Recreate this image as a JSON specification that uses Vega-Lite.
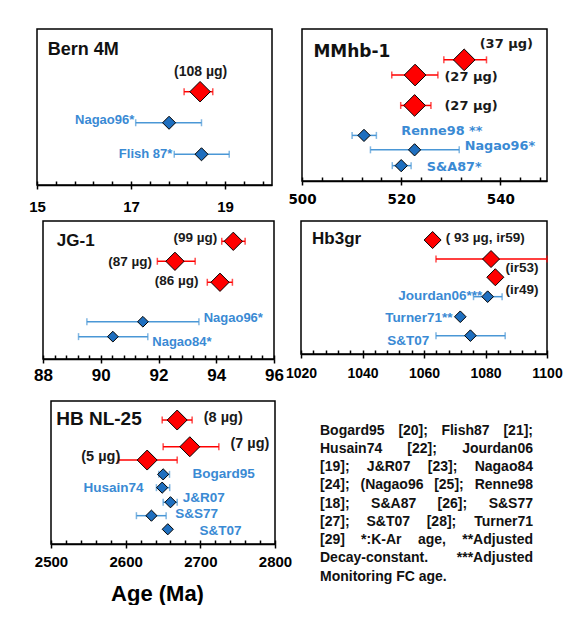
{
  "$schema": "https://vega.github.io/schema/vega-lite/v6.json",
  "padding": {"left": 6, "top": 28, "right": 0, "bottom": 0},
  "background": "white",
  "bounds": "full",
  "spacing": 16,
  "config": {
    "view": {"stroke": "#000000", "strokeWidth": 1.5},
    "axis": {"orient": "bottom", "domainColor": "#000000", "domainWidth": 1.5, "tickColor": "#000000", "tickWidth": 1.5, "labelColor": "#000000", "labelFont": "Liberation Sans", "labelFontWeight": "bold", "grid": false, "labelFlush": false, "labelOverlap": false, "titleColor": "#000000", "format": "d"}
  },
  "datasets": {
    "pts": [
      {"p": "B", "k": "new", "age": 18.47, "lo": 18.13, "hi": 18.74, "row": 4.02},
      {"p": "B", "k": "ref", "age": 17.81, "lo": 17.10, "hi": 18.50, "row": 6.01},
      {"p": "B", "k": "ref", "age": 18.50, "lo": 17.92, "hi": 19.09, "row": 8.03},
      {"p": "M", "k": "new", "age": 532.7, "lo": 528.6, "hi": 537.2, "row": 2.03},
      {"p": "M", "k": "new", "age": 522.8, "lo": 518.1, "hi": 527.4, "row": 3.03},
      {"p": "M", "k": "new", "age": 522.7, "lo": 519.9, "hi": 526.0, "row": 5.03},
      {"p": "M", "k": "ref", "age": 512.5, "lo": 510.1, "hi": 515.0, "row": 7.0},
      {"p": "M", "k": "ref", "age": 522.7, "lo": 513.8, "hi": 531.7, "row": 7.95},
      {"p": "M", "k": "ref", "age": 520.0, "lo": 518.2, "hi": 522.0, "row": 8.99},
      {"p": "J", "k": "new", "age": 94.59, "lo": 94.19, "hi": 95.0, "row": 1.47},
      {"p": "J", "k": "new", "age": 92.57, "lo": 91.96, "hi": 93.27, "row": 2.92},
      {"p": "J", "k": "new", "age": 94.13, "lo": 93.69, "hi": 94.56, "row": 4.44},
      {"p": "J", "k": "ref", "age": 91.46, "lo": 89.52, "hi": 93.4, "row": 7.3},
      {"p": "J", "k": "ref", "age": 90.42, "lo": 89.23, "hi": 91.63, "row": 8.38},
      {"p": "H", "k": "new", "age": 1062.8, "lo": null, "hi": null, "row": 1.43},
      {"p": "H", "k": "new", "age": 1081.8, "lo": 1063.9, "hi": 1100, "row": 2.86},
      {"p": "H", "k": "new", "age": 1083.2, "lo": null, "hi": null, "row": 4.23},
      {"p": "H", "k": "ref", "age": 1080.7, "lo": 1076.1, "hi": 1085.4, "row": 5.69},
      {"p": "H", "k": "ref", "age": 1071.8, "lo": null, "hi": null, "row": 7.2},
      {"p": "H", "k": "ref", "age": 1075.1, "lo": 1063.9, "hi": 1086.4, "row": 8.62},
      {"p": "N", "k": "new", "age": 2669, "lo": 2648.9, "hi": 2689, "row": 1.33},
      {"p": "N", "k": "new", "age": 2685.9, "lo": 2650.2, "hi": 2724.8, "row": 3.2},
      {"p": "N", "k": "new", "age": 2628.8, "lo": 2590.7, "hi": 2669, "row": 4.13},
      {"p": "N", "k": "ref", "age": 2650.2, "lo": 2644.4, "hi": 2658.7, "row": 5.13},
      {"p": "N", "k": "ref", "age": 2648.9, "lo": 2641.2, "hi": 2659, "row": 6.06},
      {"p": "N", "k": "ref", "age": 2660, "lo": 2650.2, "hi": 2669, "row": 7.08},
      {"p": "N", "k": "ref", "age": 2634.5, "lo": 2614.4, "hi": 2654.2, "row": 8.02},
      {"p": "N", "k": "ref", "age": 2656.4, "lo": null, "hi": null, "row": 8.97}
    ],
    "lbl": [
      {"p": "B", "k": "new", "t": "(108 µg)", "x": 18.48, "row": 2.74},
      {"p": "B", "k": "ref", "t": "Nagao96*", "x": 16.44, "row": 5.85},
      {"p": "B", "k": "ref", "t": "Flish 87*", "x": 17.31, "row": 8.03},
      {"p": "M", "k": "new", "t": "(37 µg)", "x": 541.2, "row": 0.99},
      {"p": "M", "k": "new", "t": "(27 µg)", "x": 534.1, "row": 3.13},
      {"p": "M", "k": "new", "t": "(27 µg)", "x": 534.1, "row": 5.08},
      {"p": "M", "k": "ref", "t": "Renne98 **", "x": 528.2, "row": 6.74},
      {"p": "M", "k": "ref", "t": "Nagao96*", "x": 539.9, "row": 7.73},
      {"p": "M", "k": "ref", "t": "S&A87*", "x": 530.7, "row": 9.05},
      {"p": "J", "k": "new", "t": "(99 µg)", "x": 93.28, "row": 1.23},
      {"p": "J", "k": "new", "t": "(87 µg)", "x": 91.02, "row": 2.99},
      {"p": "J", "k": "new", "t": "(86 µg)", "x": 92.63, "row": 4.33},
      {"p": "J", "k": "ref", "t": "Nagao96*", "x": 94.59, "row": 7.03},
      {"p": "J", "k": "ref", "t": "Nagao84*", "x": 92.81, "row": 8.75},
      {"p": "H", "k": "new", "t": "( 93 µg, ir59)", "x": 1079.9, "row": 1.28},
      {"p": "H", "k": "new", "t": "(ir53)", "x": 1091.9, "row": 3.53},
      {"p": "H", "k": "new", "t": "(ir49)", "x": 1091.9, "row": 5.19},
      {"p": "H", "k": "ref", "t": "Jourdan06***", "x": 1065.3, "row": 5.62},
      {"p": "H", "k": "ref", "t": "Turner71**", "x": 1058.3, "row": 7.29},
      {"p": "H", "k": "ref", "t": "S&T07", "x": 1054.9, "row": 9.0},
      {"p": "N", "k": "new", "t": "(8 µg)", "x": 2730.7, "row": 1.17},
      {"p": "N", "k": "new", "t": "(7 µg)", "x": 2766.4, "row": 3.03},
      {"p": "N", "k": "new", "t": "(5 µg)", "x": 2566.6, "row": 3.9},
      {"p": "N", "k": "ref", "t": "Bogard95", "x": 2731.1, "row": 5.13},
      {"p": "N", "k": "ref", "t": "Husain74", "x": 2583.6, "row": 6.06},
      {"p": "N", "k": "ref", "t": "J&R07", "x": 2704.7, "row": 6.76},
      {"p": "N", "k": "ref", "t": "S&S77", "x": 2694.9, "row": 7.9},
      {"p": "N", "k": "ref", "t": "S&T07", "x": 2727.1, "row": 9.07}
    ],
    "notes": [
      {"line": 0, "pos": 0, "end": false, "w": "Bogard95"},
      {"line": 0, "pos": 0.368, "end": false, "w": "[20];"},
      {"line": 0, "pos": 0.570, "end": false, "w": "Flish87"},
      {"line": 0, "pos": 1, "end": true, "w": "[21];"},
      {"line": 1, "pos": 0, "end": false, "w": "Husain74"},
      {"line": 1, "pos": 0.410, "end": false, "w": "[22];"},
      {"line": 1, "pos": 1, "end": true, "w": "Jourdan06"},
      {"line": 2, "pos": 0, "end": false, "w": "[19];"},
      {"line": 2, "pos": 0.220, "end": false, "w": "J&R07"},
      {"line": 2, "pos": 0.506, "end": false, "w": "[23];"},
      {"line": 2, "pos": 1, "end": true, "w": "Nagao84"},
      {"line": 3, "pos": 0, "end": false, "w": "[24];"},
      {"line": 3, "pos": 0.190, "end": false, "w": "(Nagao96"},
      {"line": 3, "pos": 0.536, "end": false, "w": "[25];"},
      {"line": 3, "pos": 1, "end": true, "w": "Renne98"},
      {"line": 4, "pos": 0, "end": false, "w": "[18];"},
      {"line": 4, "pos": 0.240, "end": false, "w": "S&A87"},
      {"line": 4, "pos": 0.552, "end": false, "w": "[26];"},
      {"line": 4, "pos": 1, "end": true, "w": "S&S77"},
      {"line": 5, "pos": 0, "end": false, "w": "[27];"},
      {"line": 5, "pos": 0.218, "end": false, "w": "S&T07"},
      {"line": 5, "pos": 0.501, "end": false, "w": "[28];"},
      {"line": 5, "pos": 1, "end": true, "w": "Turner71"},
      {"line": 6, "pos": 0, "end": false, "w": "[29]"},
      {"line": 6, "pos": 0.193, "end": false, "w": "*:K-Ar"},
      {"line": 6, "pos": 0.460, "end": false, "w": "age,"},
      {"line": 6, "pos": 1, "end": true, "w": "**Adjusted"},
      {"line": 7, "pos": 0, "end": false, "w": "Decay-constant."},
      {"line": 7, "pos": 1, "end": true, "w": "***Adjusted"},
      {"line": 8, "pos": 0, "end": false, "w": "Monitoring FC age."}
    ]
  },
  "vconcat": [
    {
      "bounds": "full",
      "spacing": 5,
      "vconcat": [
        {
          "bounds": "flush",
          "spacing": 30,
          "hconcat": [
            {"width": 1, "height": 1, "view": {"stroke": null}, "data": {"values": [{}]}, "mark": {"type": "point", "opacity": 0, "size": 0.1}},
            {
              "width": 235, "height": 156,
              "resolve": {"axis": {"x": "independent"}},
              "layer": [
                {"data": {"name": "pts"}, "transform": [{"filter": "datum.p=='B' && isValid(datum.lo)"}],
                 "mark": {"type": "rule", "strokeWidth": 1.5},
                 "encoding": {
                   "x": {"field": "lo", "type": "quantitative", "scale": {"domain": [15, 20], "nice": false, "zero": false},
                         "axis": {"orient": "bottom", "values": [15,15.4,15.8,16.2,16.6,17,17.4,17.8,18.2,18.6,19,19.4,19.8], "tickSize": -4, "labels": false, "domain": false, "title": null}},
                   "x2": {"field": "hi"},
                   "y": {"field": "row", "type": "quantitative", "scale": {"domain": [10, 0], "nice": false, "zero": false}, "axis": null},
                   "color": {"condition": {"test": "datum.k=='new'", "value": "#ff0000"}, "value": "#4a97d6"}}},
                {"data": {"name": "pts"}, "transform": [{"filter": "datum.p=='B' && isValid(datum.lo)"}],
                 "mark": {"type": "tick", "orient": "vertical", "size": 7, "thickness": 1.5},
                 "encoding": {"x": {"field": "lo", "type": "quantitative", "axis": null}, "y": {"field": "row", "type": "quantitative", "axis": null},
                   "color": {"condition": {"test": "datum.k=='new'", "value": "#ff0000"}, "value": "#4a97d6"}}},
                {"data": {"name": "pts"}, "transform": [{"filter": "datum.p=='B' && isValid(datum.hi)"}],
                 "mark": {"type": "tick", "orient": "vertical", "size": 7, "thickness": 1.5},
                 "encoding": {"x": {"field": "hi", "type": "quantitative", "axis": null}, "y": {"field": "row", "type": "quantitative", "axis": null},
                   "color": {"condition": {"test": "datum.k=='new'", "value": "#ff0000"}, "value": "#4a97d6"}}},
                {"data": {"name": "pts"}, "transform": [{"filter": "datum.p=='B'"}],
                 "mark": {"type": "point", "shape": "diamond", "filled": true, "stroke": "#000000", "strokeWidth": 1, "opacity": 1},
                 "encoding": {"x": {"field": "age", "type": "quantitative", "axis": {"orient": "bottom", "values": [15, 17, 19], "tickSize": 4, "labelPadding": 10, "labelFontSize": 15, "title": null}},
                   "y": {"field": "row", "type": "quantitative", "axis": null},
                   "fill": {"condition": {"test": "datum.k=='new'", "value": "#ff0000"}, "value": "#1f6fbf"},
                   "size": {"condition": {"test": "datum.k=='new'", "value": 420}, "value": 170}}},
                {"data": {"name": "lbl"}, "transform": [{"filter": "datum.p=='B'"}],
                 "mark": {"type": "text", "font": "Liberation Sans", "fontWeight": "bold", "baseline": "middle", "align": "center"},
                 "encoding": {"x": {"field": "x", "type": "quantitative", "axis": null}, "y": {"field": "row", "type": "quantitative", "axis": null},
                   "text": {"field": "t"},
                   "color": {"condition": {"test": "datum.k=='new'", "value": "#1a1a1a"}, "value": "#3a8ad4"},
                   "size": {"condition": {"test": "datum.k=='new'", "value": 14}, "value": 13}}},
                {"data": {"values": [{"t": "Bern 4M"}]},
                 "mark": {"type": "text", "font": "Liberation Sans", "fontWeight": "bold", "fontSize": 18, "align": "left", "baseline": "middle", "color": "#111111"},
                 "encoding": {"x": {"datum": 15.23, "type": "quantitative", "axis": null}, "y": {"datum": 1.35, "type": "quantitative", "axis": null}, "text": {"field": "t"}}}
              ]
            },
            {
              "width": 245, "height": 152,
              "resolve": {"axis": {"x": "independent"}},
              "layer": [
                {"data": {"name": "pts"}, "transform": [{"filter": "datum.p=='M' && isValid(datum.lo)"}],
                 "mark": {"type": "rule", "strokeWidth": 1.5},
                 "encoding": {
                   "x": {"field": "lo", "type": "quantitative", "scale": {"domain": [500, 549.4], "nice": false, "zero": false},
                         "axis": {"orient": "bottom", "values": [500,504,508,512,516,520,524,528,532,536,540,544,548], "tickSize": -4, "labels": false, "domain": false, "title": null}},
                   "x2": {"field": "hi"},
                   "y": {"field": "row", "type": "quantitative", "scale": {"domain": [10, 0], "nice": false, "zero": false}, "axis": null},
                   "color": {"condition": {"test": "datum.k=='new'", "value": "#ff0000"}, "value": "#4a97d6"}}},
                {"data": {"name": "pts"}, "transform": [{"filter": "datum.p=='M' && isValid(datum.lo)"}],
                 "mark": {"type": "tick", "orient": "vertical", "size": 7, "thickness": 1.5},
                 "encoding": {"x": {"field": "lo", "type": "quantitative", "axis": null}, "y": {"field": "row", "type": "quantitative", "axis": null},
                   "color": {"condition": {"test": "datum.k=='new'", "value": "#ff0000"}, "value": "#4a97d6"}}},
                {"data": {"name": "pts"}, "transform": [{"filter": "datum.p=='M' && isValid(datum.hi)"}],
                 "mark": {"type": "tick", "orient": "vertical", "size": 7, "thickness": 1.5},
                 "encoding": {"x": {"field": "hi", "type": "quantitative", "axis": null}, "y": {"field": "row", "type": "quantitative", "axis": null},
                   "color": {"condition": {"test": "datum.k=='new'", "value": "#ff0000"}, "value": "#4a97d6"}}},
                {"data": {"name": "pts"}, "transform": [{"filter": "datum.p=='M'"}],
                 "mark": {"type": "point", "shape": "diamond", "filled": true, "stroke": "#000000", "strokeWidth": 1, "opacity": 1},
                 "encoding": {"x": {"field": "age", "type": "quantitative", "axis": {"orient": "bottom", "values": [500, 520, 540], "tickSize": 4, "labelPadding": 7, "labelFontSize": 13.5, "labelFont": "DejaVu Sans", "title": null}},
                   "y": {"field": "row", "type": "quantitative", "axis": null},
                   "fill": {"condition": {"test": "datum.k=='new'", "value": "#ff0000"}, "value": "#1f6fbf"},
                   "size": {"condition": {"test": "datum.k=='new'", "value": 470}, "value": 150}}},
                {"data": {"name": "lbl"}, "transform": [{"filter": "datum.p=='M'"}],
                 "mark": {"type": "text", "font": "DejaVu Sans", "fontWeight": "bold", "baseline": "middle", "align": "center"},
                 "encoding": {"x": {"field": "x", "type": "quantitative", "axis": null}, "y": {"field": "row", "type": "quantitative", "axis": null},
                   "text": {"field": "t"},
                   "color": {"condition": {"test": "datum.k=='new'", "value": "#1a1a1a"}, "value": "#3a8ad4"},
                   "size": {"condition": {"test": "datum.k=='new'", "value": 13}, "value": 12.8}}},
                {"data": {"values": [{"t": "MMhb-1"}]},
                 "mark": {"type": "text", "font": "DejaVu Sans", "fontWeight": "bold", "fontSize": 17, "align": "left", "baseline": "middle", "color": "#111111"},
                 "encoding": {"x": {"datum": 502.3, "type": "quantitative", "axis": null}, "y": {"datum": 1.5, "type": "quantitative", "axis": null}, "text": {"field": "t"}}}
              ]
            }
          ]
        },
        {
          "bounds": "flush",
          "spacing": 27,
          "hconcat": [
            {"width": 10, "height": 1, "view": {"stroke": null}, "data": {"values": [{}]}, "mark": {"type": "point", "opacity": 0, "size": 0.1}},
            {
              "width": 231, "height": 138,
              "resolve": {"axis": {"x": "independent"}},
              "layer": [
                {"data": {"name": "pts"}, "transform": [{"filter": "datum.p=='J' && isValid(datum.lo)"}],
                 "mark": {"type": "rule", "strokeWidth": 1.5},
                 "encoding": {
                   "x": {"field": "lo", "type": "quantitative", "scale": {"domain": [88, 96], "nice": false, "zero": false},
                         "axis": {"orient": "bottom", "values": [88,88.4,88.8,89.2,89.6,90,90.4,90.8,91.2,91.6,92,92.4,92.8,93.2,93.6,94,94.4,94.8,95.2,95.6,96], "tickSize": -4, "labels": false, "domain": false, "title": null}},
                   "x2": {"field": "hi"},
                   "y": {"field": "row", "type": "quantitative", "scale": {"domain": [10, 0], "nice": false, "zero": false}, "axis": null},
                   "color": {"condition": {"test": "datum.k=='new'", "value": "#ff0000"}, "value": "#4a97d6"}}},
                {"data": {"name": "pts"}, "transform": [{"filter": "datum.p=='J' && isValid(datum.lo)"}],
                 "mark": {"type": "tick", "orient": "vertical", "size": 7, "thickness": 1.5},
                 "encoding": {"x": {"field": "lo", "type": "quantitative", "axis": null}, "y": {"field": "row", "type": "quantitative", "axis": null},
                   "color": {"condition": {"test": "datum.k=='new'", "value": "#ff0000"}, "value": "#4a97d6"}}},
                {"data": {"name": "pts"}, "transform": [{"filter": "datum.p=='J' && isValid(datum.hi)"}],
                 "mark": {"type": "tick", "orient": "vertical", "size": 7, "thickness": 1.5},
                 "encoding": {"x": {"field": "hi", "type": "quantitative", "axis": null}, "y": {"field": "row", "type": "quantitative", "axis": null},
                   "color": {"condition": {"test": "datum.k=='new'", "value": "#ff0000"}, "value": "#4a97d6"}}},
                {"data": {"name": "pts"}, "transform": [{"filter": "datum.p=='J'"}],
                 "mark": {"type": "point", "shape": "diamond", "filled": true, "stroke": "#000000", "strokeWidth": 1, "opacity": 1},
                 "encoding": {"x": {"field": "age", "type": "quantitative", "axis": {"orient": "bottom", "values": [88, 90, 92, 94, 96], "tickSize": 4, "labelPadding": 4, "labelFontSize": 17, "title": null}},
                   "y": {"field": "row", "type": "quantitative", "axis": null},
                   "fill": {"condition": {"test": "datum.k=='new'", "value": "#ff0000"}, "value": "#1f6fbf"},
                   "size": {"condition": {"test": "datum.k=='new'", "value": 335}, "value": 115}}},
                {"data": {"name": "lbl"}, "transform": [{"filter": "datum.p=='J'"}],
                 "mark": {"type": "text", "font": "Liberation Sans", "fontWeight": "bold", "baseline": "middle", "align": "center"},
                 "encoding": {"x": {"field": "x", "type": "quantitative", "axis": null}, "y": {"field": "row", "type": "quantitative", "axis": null},
                   "text": {"field": "t"},
                   "color": {"condition": {"test": "datum.k=='new'", "value": "#1a1a1a"}, "value": "#3a8ad4"},
                   "size": {"condition": {"test": "datum.k=='new'", "value": 13.5}, "value": 13}}},
                {"data": {"values": [{"t": "JG-1"}]},
                 "mark": {"type": "text", "font": "Liberation Sans", "fontWeight": "bold", "fontSize": 17, "align": "left", "baseline": "middle", "color": "#111111"},
                 "encoding": {"x": {"datum": 88.48, "type": "quantitative", "axis": null}, "y": {"datum": 1.43, "type": "quantitative", "axis": null}, "text": {"field": "t"}}}
              ]
            },
            {
              "width": 246, "height": 133,
              "resolve": {"axis": {"x": "independent"}},
              "layer": [
                {"data": {"name": "pts"}, "transform": [{"filter": "datum.p=='H' && isValid(datum.lo)"}],
                 "mark": {"type": "rule", "strokeWidth": 1.5},
                 "encoding": {
                   "x": {"field": "lo", "type": "quantitative", "scale": {"domain": [1020, 1100], "nice": false, "zero": false},
                         "axis": {"orient": "bottom", "values": [1020,1024,1028,1032,1036,1040,1044,1048,1052,1056,1060,1064,1068,1072,1076,1080,1084,1088,1092,1096,1100], "tickSize": -4, "labels": false, "domain": false, "title": null}},
                   "x2": {"field": "hi"},
                   "y": {"field": "row", "type": "quantitative", "scale": {"domain": [10, 0], "nice": false, "zero": false}, "axis": null},
                   "color": {"condition": {"test": "datum.k=='new'", "value": "#ff0000"}, "value": "#4a97d6"}}},
                {"data": {"name": "pts"}, "transform": [{"filter": "datum.p=='H' && isValid(datum.lo)"}],
                 "mark": {"type": "tick", "orient": "vertical", "size": 7, "thickness": 1.5},
                 "encoding": {"x": {"field": "lo", "type": "quantitative", "axis": null}, "y": {"field": "row", "type": "quantitative", "axis": null},
                   "color": {"condition": {"test": "datum.k=='new'", "value": "#ff0000"}, "value": "#4a97d6"}}},
                {"data": {"name": "pts"}, "transform": [{"filter": "datum.p=='H' && isValid(datum.hi)"}],
                 "mark": {"type": "tick", "orient": "vertical", "size": 7, "thickness": 1.5},
                 "encoding": {"x": {"field": "hi", "type": "quantitative", "axis": null}, "y": {"field": "row", "type": "quantitative", "axis": null},
                   "color": {"condition": {"test": "datum.k=='new'", "value": "#ff0000"}, "value": "#4a97d6"}}},
                {"data": {"name": "pts"}, "transform": [{"filter": "datum.p=='H'"}],
                 "mark": {"type": "point", "shape": "diamond", "filled": true, "stroke": "#000000", "strokeWidth": 1, "opacity": 1},
                 "encoding": {"x": {"field": "age", "type": "quantitative", "axis": {"orient": "bottom", "values": [1020, 1040, 1060, 1080, 1100], "tickSize": 4, "labelPadding": 8, "labelFontSize": 14, "title": null}},
                   "y": {"field": "row", "type": "quantitative", "axis": null},
                   "fill": {"condition": {"test": "datum.k=='new'", "value": "#ff0000"}, "value": "#1f6fbf"},
                   "size": {"condition": {"test": "datum.k=='new'", "value": 290}, "value": 135}}},
                {"data": {"name": "lbl"}, "transform": [{"filter": "datum.p=='H'"}],
                 "mark": {"type": "text", "font": "Liberation Sans", "fontWeight": "bold", "baseline": "middle", "align": "center"},
                 "encoding": {"x": {"field": "x", "type": "quantitative", "axis": null}, "y": {"field": "row", "type": "quantitative", "axis": null},
                   "text": {"field": "t"},
                   "color": {"condition": {"test": "datum.k=='new'", "value": "#1a1a1a"}, "value": "#3a8ad4"},
                   "size": {"condition": {"test": "datum.k=='new'", "value": 13.5}, "value": 13.5}}},
                {"data": {"values": [{"t": "Hb3gr"}]},
                 "mark": {"type": "text", "font": "Liberation Sans", "fontWeight": "bold", "fontSize": 17, "align": "left", "baseline": "middle", "color": "#111111"},
                 "encoding": {"x": {"datum": 1023.6, "type": "quantitative", "axis": null}, "y": {"datum": 1.35, "type": "quantitative", "axis": null}, "text": {"field": "t"}}}
              ]
            }
          ]
        }
      ]
    },
    {
      "bounds": "flush",
      "spacing": 30,
      "hconcat": [
        {"width": 15, "height": 1, "view": {"stroke": null}, "data": {"values": [{}]}, "mark": {"type": "point", "opacity": 0, "size": 0.1}},
        {
          "width": 224, "height": 143,
          "resolve": {"axis": {"x": "independent"}},
          "layer": [
            {"data": {"name": "pts"}, "transform": [{"filter": "datum.p=='N' && isValid(datum.lo)"}],
             "mark": {"type": "rule", "strokeWidth": 1.5},
             "encoding": {
               "x": {"field": "lo", "type": "quantitative", "scale": {"domain": [2500, 2800], "nice": false, "zero": false},
                     "axis": {"orient": "bottom", "values": [2500,2520,2540,2560,2580,2600,2620,2640,2660,2680,2700,2720,2740,2760,2780,2800], "tickSize": -4, "labels": false, "domain": false, "title": null}},
               "x2": {"field": "hi"},
               "y": {"field": "row", "type": "quantitative", "scale": {"domain": [10, 0], "nice": false, "zero": false}, "axis": null},
               "color": {"condition": {"test": "datum.k=='new'", "value": "#ff0000"}, "value": "#4a97d6"}}},
            {"data": {"name": "pts"}, "transform": [{"filter": "datum.p=='N' && isValid(datum.lo)"}],
             "mark": {"type": "tick", "orient": "vertical", "size": 7, "thickness": 1.5},
             "encoding": {"x": {"field": "lo", "type": "quantitative", "axis": null}, "y": {"field": "row", "type": "quantitative", "axis": null},
               "color": {"condition": {"test": "datum.k=='new'", "value": "#ff0000"}, "value": "#4a97d6"}}},
            {"data": {"name": "pts"}, "transform": [{"filter": "datum.p=='N' && isValid(datum.hi)"}],
             "mark": {"type": "tick", "orient": "vertical", "size": 7, "thickness": 1.5},
             "encoding": {"x": {"field": "hi", "type": "quantitative", "axis": null}, "y": {"field": "row", "type": "quantitative", "axis": null},
               "color": {"condition": {"test": "datum.k=='new'", "value": "#ff0000"}, "value": "#4a97d6"}}},
            {"data": {"name": "pts"}, "transform": [{"filter": "datum.p=='N'"}],
             "mark": {"type": "point", "shape": "diamond", "filled": true, "stroke": "#000000", "strokeWidth": 1, "opacity": 1},
             "encoding": {"x": {"field": "age", "type": "quantitative", "axis": {"orient": "bottom", "values": [2500, 2600, 2700, 2800], "tickSize": 4, "labelPadding": 6, "labelFontSize": 15, "title": "Age (Ma)", "titleFont": "Liberation Sans", "titleFontWeight": "bold", "titleFontSize": 22, "titlePadding": 14, "titleX": 106}},
               "y": {"field": "row", "type": "quantitative", "axis": null},
               "fill": {"condition": {"test": "datum.k=='new'", "value": "#ff0000"}, "value": "#1f6fbf"},
               "size": {"condition": {"test": "datum.k=='new'", "value": 400}, "value": 125}}},
            {"data": {"name": "lbl"}, "transform": [{"filter": "datum.p=='N'"}],
             "mark": {"type": "text", "font": "Liberation Sans", "fontWeight": "bold", "baseline": "middle", "align": "center"},
             "encoding": {"x": {"field": "x", "type": "quantitative", "axis": null}, "y": {"field": "row", "type": "quantitative", "axis": null},
               "text": {"field": "t"},
               "color": {"condition": {"test": "datum.k=='new'", "value": "#1a1a1a"}, "value": "#3a8ad4"},
               "size": {"condition": {"test": "datum.k=='new'", "value": 14.5}, "value": 13.5}}},
            {"data": {"values": [{"t": "HB NL-25"}]},
             "mark": {"type": "text", "font": "Liberation Sans", "fontWeight": "bold", "fontSize": 19, "align": "left", "baseline": "middle", "color": "#111111"},
             "encoding": {"x": {"datum": 2507, "type": "quantitative", "axis": null}, "y": {"datum": 1.26, "type": "quantitative", "axis": null}, "text": {"field": "t"}}}
          ]
        },
        {
          "width": 228, "height": 143,
          "view": {"stroke": null},
          "data": {"name": "notes"},
          "layer": [
            {"transform": [{"filter": "!datum.end"}],
             "mark": {"type": "text", "align": "left", "baseline": "middle", "font": "Liberation Sans", "fontWeight": "bold", "fontSize": 14, "color": "#111111"},
             "encoding": {"x": {"field": "pos", "type": "quantitative", "scale": {"domain": [-0.0704, 1], "nice": false, "zero": false}, "axis": null},
               "y": {"field": "line", "type": "quantitative", "scale": {"domain": [6.208, -1.627], "nice": false, "zero": false}, "axis": null},
               "text": {"field": "w"}}},
            {"transform": [{"filter": "datum.end"}],
             "mark": {"type": "text", "align": "right", "baseline": "middle", "font": "Liberation Sans", "fontWeight": "bold", "fontSize": 14, "color": "#111111"},
             "encoding": {"x": {"field": "pos", "type": "quantitative", "axis": null},
               "y": {"field": "line", "type": "quantitative", "axis": null},
               "text": {"field": "w"}}}
          ]
        }
      ]
    }
  ]
}
